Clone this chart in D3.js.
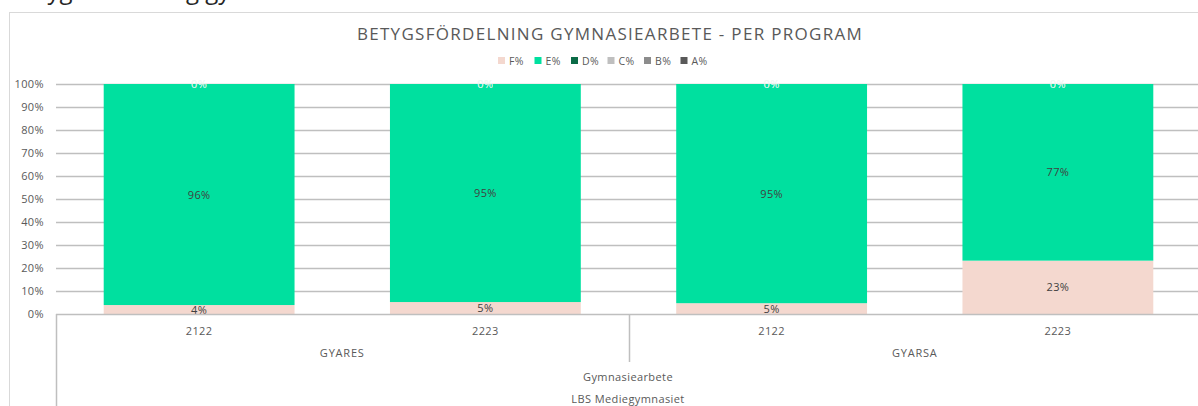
<!DOCTYPE html>
<html>
<head>
<meta charset="utf-8">
<script src="https://cdn.jsdelivr.net/npm/d3@7"></script>
<style>
  body { margin: 0; background: #fff; }
  svg text { font-family: "Open Sans", sans-serif; letter-spacing: 0.4px; }
</style>
</head>
<body>
<div id="chart"></div>
<script>
// Data
const programs = ['GYARES', 'GYARSA'];
const years = ['2122', '2223', '2122', '2223'];
const categoryProgram = ['GYARES', 'GYARES', 'GYARSA', 'GYARSA'];
const seriesNames = ['F%', 'E%', 'D%', 'C%', 'B%', 'A%'];
const fValues = [0.039, 0.052, 0.047, 0.232];
const eValues = [0.961, 0.948, 0.953, 0.768];
const dValues = [0, 0, 0, 0];
const cValues = [0, 0, 0, 0];
const bValues = [0, 0, 0, 0];
const aValues = [0, 0, 0, 0];
const yTicks = [0, 0.1, 0.2, 0.3, 0.4, 0.5, 0.6, 0.7, 0.8, 0.9, 1];

const colors = ['#f4d8cf', '#00e09f', '#0b6b47', '#bfbfbf', '#8c8c8c', '#595959'];
const labelColors = ['#404040', '#404040', '#eef8f3', '#eef8f3', '#eef8f3', '#eef8f3'];

const width = 1198;
const height = 406;

const svg = d3.select('#chart')
  .append('svg')
  .attr('width', width)
  .attr('height', height);

// heading above the chart box, cut off by the top edge as in the original
svg.append('text')
  .text('Betygsfördelning gymnasiearbete')
  .attr('x', 10)
  .attr('y', -1)
  .style('font-size', '24px')
  .style('letter-spacing', '0px')
  .style('fill', '#262626');

// chart border
svg.append('rect')
  .attr('x', 9.5)
  .attr('y', 12.5)
  .attr('width', 1200)
  .attr('height', 420)
  .style('fill', 'none')
  .style('stroke', '#d9d9d9');

// title
svg.append('text')
  .text('BETYGSFÖRDELNING GYMNASIEARBETE - PER PROGRAM')
  .attr('x', 610)
  .attr('y', 40)
  .attr('text-anchor', 'middle')
  .style('font-size', '17px')
  .style('letter-spacing', '1.3px')
  .style('fill', '#595959');

// legend
const legend = svg.append('g')
  .selectAll('g')
  .data(seriesNames)
  .enter()
  .append('g')
  .attr('transform', (d, i) => 'translate(' + (498 + i * 36.5) + ', 57)');

legend.append('rect')
  .attr('width', 7)
  .attr('height', 7)
  .style('fill', (d, i) => colors[i]);

legend.append('text')
  .text((d) => d)
  .attr('x', 11)
  .attr('y', 7.5)
  .style('font-size', '10.5px')
  .style('fill', '#595959');

// scales
const xScale = d3.scaleBand()
  .domain(d3.range(years.length))
  .range([56, 1201])
  .paddingInner(1 / 3)
  .paddingOuter(1 / 6);

const yScale = d3.scaleLinear()
  .domain([0, 1])
  .range([314, 84]);

// gridlines
svg.append('g')
  .selectAll('line')
  .data(yTicks.slice(1))
  .enter()
  .append('line')
  .attr('x1', 56)
  .attr('x2', 1201)
  .attr('y1', (d) => Math.round(yScale(d)) + 0.5)
  .attr('y2', (d) => Math.round(yScale(d)) + 0.5)
  .style('stroke', '#bfbfbf')
  .style('stroke-width', 1.5);

// y axis labels
const yAxis = d3.axisLeft(yScale)
  .tickValues(yTicks)
  .tickFormat(d3.format('.0%'))
  .tickSize(0)
  .tickPadding(8);

svg.append('g')
  .attr('transform', 'translate(52, 0)')
  .call(yAxis)
  .call((g) => g.select('.domain').remove())
  .call((g) => g.selectAll('text')
    .style('font-family', '"Open Sans", sans-serif')
    .style('font-size', '11px')
    .style('fill', '#595959'));

// stacked bars
const rows = years.map((y, i) => ({
  'F%': fValues[i], 'E%': eValues[i], 'D%': dValues[i],
  'C%': cValues[i], 'B%': bValues[i], 'A%': aValues[i], index: i
}));
const stacked = d3.stack().keys(seriesNames)(rows);

const layers = svg.append('g')
  .selectAll('g')
  .data(stacked)
  .enter()
  .append('g')
  .style('fill', (d, i) => colors[i]);

layers.selectAll('rect')
  .data((d) => d)
  .enter()
  .append('rect')
  .attr('x', (d) => xScale(d.data.index))
  .attr('width', xScale.bandwidth())
  .attr('y', (d) => yScale(d[1]))
  .attr('height', (d) => yScale(d[0]) - yScale(d[1]));

// data labels
stacked.forEach((layer, si) => {
  svg.append('g')
    .selectAll('text')
    .data(layer)
    .enter()
    .append('text')
    .text((d) => d3.format('.0%')(d[1] - d[0]))
    .attr('x', (d) => xScale(d.data.index) + xScale.bandwidth() / 2)
    .attr('y', (d) => yScale((d[0] + d[1]) / 2) + 4)
    .attr('text-anchor', 'middle')
    .style('font-size', '11px')
    .style('fill', labelColors[si])
    .style('fill-opacity', si > 1 ? 0.45 : 1);
});

// x axis line
svg.append('line')
  .attr('x1', 56)
  .attr('x2', 1201)
  .attr('y1', 314.5)
  .attr('y2', 314.5)
  .style('stroke', '#bfbfbf')
  .style('stroke-width', 1.5);

// multi-level category labels
svg.append('g')
  .selectAll('text')
  .data(years)
  .enter()
  .append('text')
  .text((d) => d)
  .attr('x', (d, i) => xScale(i) + xScale.bandwidth() / 2)
  .attr('y', 335)
  .attr('text-anchor', 'middle')
  .style('font-size', '11px')
  .style('fill', '#595959');

const groupX = (p) => {
  const idx = d3.range(years.length).filter((i) => categoryProgram[i] === p);
  const x0 = xScale(idx[0]) - xScale.step() * xScale.paddingInner() / 2;
  const x1 = xScale(idx[idx.length - 1]) + xScale.bandwidth() + xScale.step() * xScale.paddingInner() / 2;
  return [x0, x1];
};

svg.append('g')
  .selectAll('text')
  .data(programs)
  .enter()
  .append('text')
  .text((d) => d)
  .attr('x', (d) => d3.mean(groupX(d)))
  .attr('y', 357)
  .attr('text-anchor', 'middle')
  .style('font-size', '11px')
  .style('letter-spacing', '0.8px')
  .style('fill', '#595959');

// separator between program groups
svg.append('line')
  .attr('x1', Math.round(groupX(programs[0])[1]) + 0.5)
  .attr('x2', Math.round(groupX(programs[0])[1]) + 0.5)
  .attr('y1', 314)
  .attr('y2', 362)
  .style('stroke', '#bfbfbf')
  .style('stroke-width', 1.5);

// left boundary of category axis
svg.append('line')
  .attr('x1', 56.5)
  .attr('x2', 56.5)
  .attr('y1', 314)
  .attr('y2', 406)
  .style('stroke', '#bfbfbf')
  .style('stroke-width', 1.5);

svg.append('text')
  .text('Gymnasiearbete')
  .attr('x', 628)
  .attr('y', 381)
  .attr('text-anchor', 'middle')
  .style('font-size', '11px')
  .style('fill', '#595959');

svg.append('text')
  .text('LBS Mediegymnasiet')
  .attr('x', 628)
  .attr('y', 403)
  .attr('text-anchor', 'middle')
  .style('font-size', '11px')
  .style('fill', '#595959');
</script>
</body>
</html>
